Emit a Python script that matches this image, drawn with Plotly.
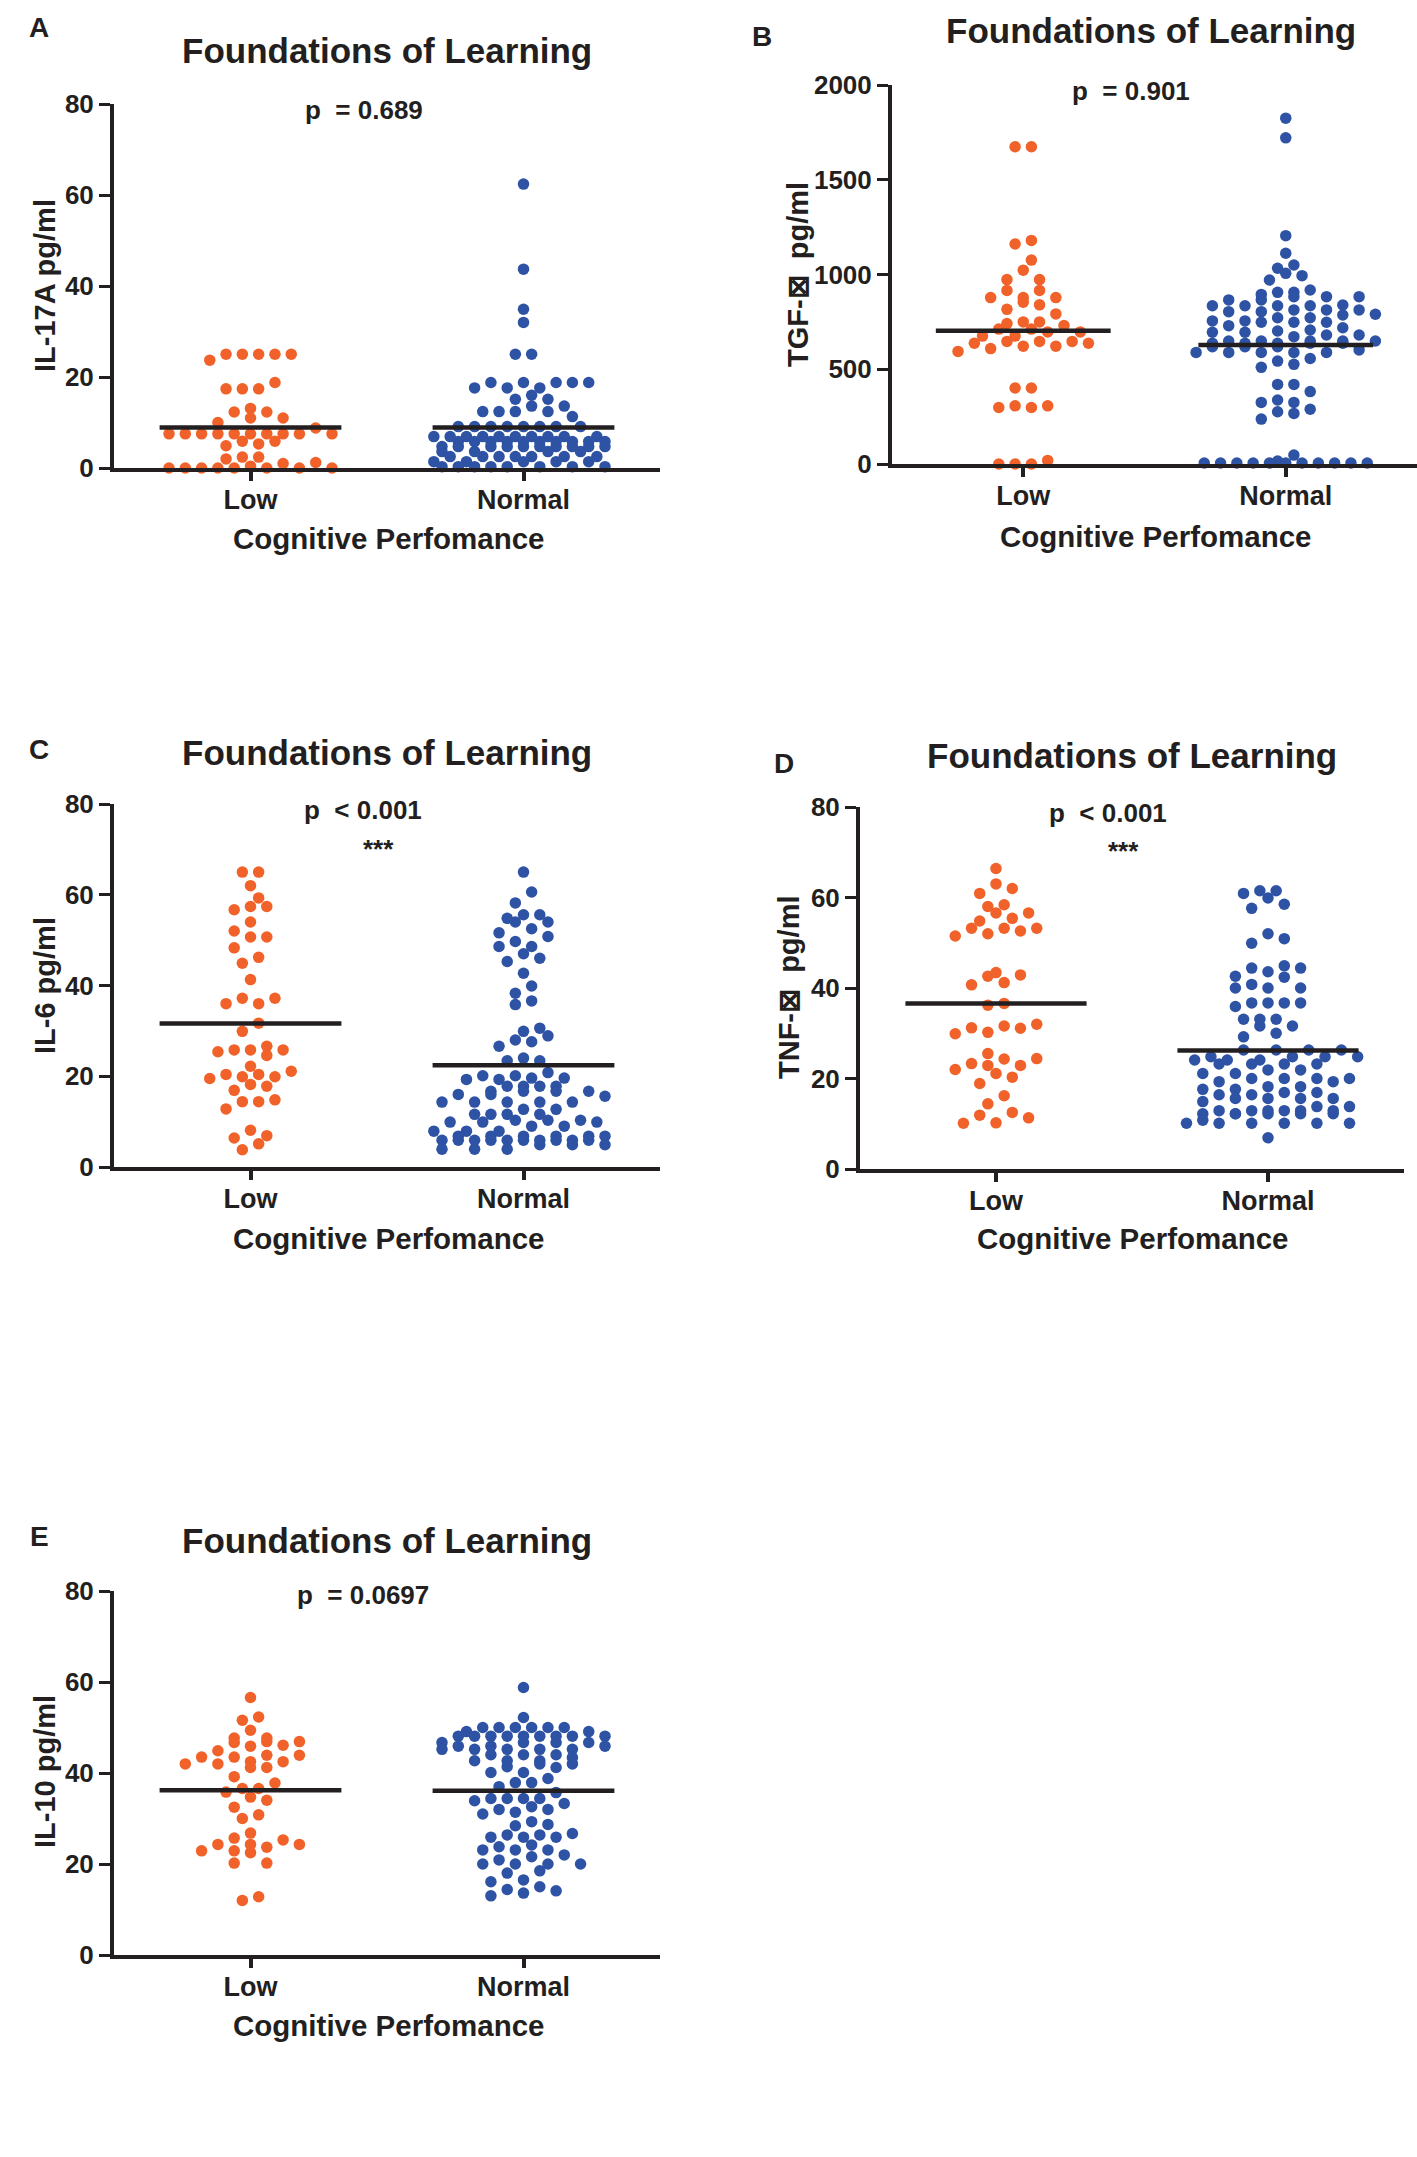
import numpy as np
import plotly.graph_objects as go

# page size of the reference figure
W, H = 1417, 2157

groups = ["Low", "Normal"]
orange = "#F0622A"
blue = "#2E53A4"
ink = "#231F20"
font_family = "Liberation Sans, Arial, Helvetica, sans-serif"

# IL-17A (panel A)
il17_low = [25.0, 25.0, 25.0, 25.0, 25.0, 23.7, 18.8, 17.4, 17.4, 17.4, 13.1, 12.3, 12.3,
            11.0, 11.0, 10.0, 8.8, 7.5, 7.5, 7.5, 7.5, 7.5, 7.5, 7.5, 7.5, 7.5, 7.5,
            5.9, 5.9, 5.3, 4.9, 2.4, 2.4, 2.0, 1.2, 1.0, 0.4, 0, 0, 0, 0, 0, 0, 0, 0]
il17_normal = [62.4, 43.7, 34.9, 32.0, 25.0, 25.0, 18.8, 18.8, 18.8, 18.8, 18.8,
               17.6, 17.6, 17.6, 16.0, 15.1, 15.1, 13.6, 13.6, 12.4, 12.4, 12.4, 12.4, 11.3,
               9.1, 9.1, 9.1, 9.1, 9.1, 9.1, 9.1, 9.1,
               6.9, 6.9, 6.9, 6.9, 6.9, 6.9, 6.9, 6.9, 6.9, 6.9,
               5.8, 5.8, 5.8, 5.8, 5.8, 5.8, 5.8, 5.8, 5.8, 5.8,
               4.7, 4.7, 4.7, 4.7, 4.7, 4.7, 4.7, 4.7, 4.7, 4.7,
               3.6, 3.6, 3.6, 3.6, 2.5, 2.5, 2.5, 2.5, 2.5, 2.5, 2.5,
               1.4, 1.4, 1.4, 1.4, 1.4, 0.3, 0.3, 0.3, 0.3, 0.3, 0.3, 0.3, 0.3]
il17_means = [8.9, 8.9]

# TGF-beta (panel B)
tgf_low = [1674, 1674, 1180, 1161, 1076, 1023, 973, 973, 916, 916, 878, 878, 878, 854, 840,
           816, 792, 750, 750, 741, 731, 712, 712, 697, 697, 675, 675, 647, 647, 647, 637,
           637, 622, 622, 609, 594, 401, 401, 307, 307, 298, 298, 19, 0, 0, 0]
tgf_normal = [1825, 1721, 1205, 1112, 1050, 1033, 1006, 994, 971, 918, 906, 906, 895,
              883, 883, 883, 866, 866, 839, 835, 835, 835, 835, 813, 813, 813, 804, 804,
              790, 786, 772, 772, 755, 755, 748, 748, 748, 730, 719, 707, 702, 695, 695,
              681, 681, 672, 649, 649, 649, 649, 649, 637, 637, 637, 637, 637, 619, 619, 619,
              602, 589, 589, 589, 589, 589, 557, 543, 526, 510, 420, 420, 382, 338, 325, 325,
              289, 276, 267, 237, 47, 16, 5, 5, 5, 5, 5, 5, 5, 5, 5, 5, 5]
tgf_means = [703, 628]

# IL-6 (panel C)
il6_low = [65.0, 65.0, 62.0, 59.3, 57.4, 57.4, 56.7, 54.0, 52.0, 50.7, 50.7, 48.3, 46.2,
           44.9, 41.3, 37.2, 37.2, 36.0, 36.0, 31.7, 29.9, 26.6, 25.8, 25.8, 25.8, 25.4,
           24.6, 22.2, 21.1, 20.4, 20.4, 19.9, 19.9, 19.5, 18.2, 17.8, 16.9, 14.8, 14.4,
           14.4, 12.8, 8.1, 6.9, 6.4, 5.1, 3.8]
il6_normal = [65.0, 60.6, 58.2, 55.6, 55.6, 54.8, 54.0, 54.0, 52.5, 51.6, 50.8, 49.7, 48.6,
              48.6, 47.0, 46.0, 45.3, 42.7, 39.9, 38.3, 36.6, 35.8, 30.6, 29.9, 28.9, 28.0,
              27.6, 26.6, 24.0, 23.4, 23.4, 20.8, 20.1, 20.1, 19.6, 19.6, 19.3, 19.3,
              17.8, 17.8, 17.8, 17.8, 16.7, 16.7, 16.7, 16.7, 16.0, 16.0, 15.6,
              14.3, 14.3, 14.3, 14.3, 14.3, 12.7, 12.7, 11.6, 11.6, 11.6, 11.6,
              10.3, 10.3, 10.3, 9.9, 9.9, 9.9, 9.0, 9.0, 7.9, 7.9, 7.9,
              6.8, 6.8, 6.8, 6.8, 6.8, 6.8, 5.9, 5.9, 5.9, 5.9, 5.9, 5.9, 5.9, 5.9, 5.9, 5.9,
              4.9, 4.9, 4.9, 3.9, 3.9, 3.9]
il6_means = [31.6, 22.4]

# TNF-alpha (panel D)
tnf_low = [66.4, 63.0, 62.0, 60.9, 58.4, 58.0, 56.6, 56.6, 55.4, 54.8, 53.2, 53.2, 53.2,
           52.6, 52.0, 51.5, 43.4, 42.9, 42.6, 41.2, 40.7, 36.6, 36.2, 32.0, 31.6, 31.2,
           31.1, 30.2, 29.9, 25.5, 24.4, 24.3, 23.3, 22.9, 22.9, 22.0, 21.1, 20.3, 18.9,
           16.2, 14.4, 12.5, 11.9, 11.3, 10.2, 10.1]
tnf_normal = [61.5, 61.5, 60.9, 59.9, 58.5, 57.6, 52.0, 50.9, 49.9, 44.9, 44.4, 44.4, 43.6,
              42.6, 42.4, 40.8, 40.0, 40.0, 40.0, 36.7, 36.7, 36.7, 36.7, 35.9,
              33.1, 33.1, 33.1, 31.6, 31.6, 30.0, 29.2, 26.3, 26.3, 26.3, 26.3,
              24.8, 24.8, 24.8, 24.8, 24.1, 24.1, 24.1, 23.2, 23.2, 23.2, 23.2,
              21.9, 21.9, 21.1, 21.1, 20.0, 20.0, 20.0, 20.0, 19.3, 19.3, 18.2, 18.2,
              17.6, 17.6, 16.9, 16.9, 16.4, 16.4, 15.6, 15.6, 15.6, 15.6, 14.9, 13.8, 13.8,
              12.9, 12.9, 12.9, 12.9, 12.9, 12.9, 12.2, 12.2, 12.2, 12.2, 12.2, 12.2, 10.8,
              10.1, 10.1, 10.1, 10.1, 10.1, 10.1, 6.9]
tnf_means = [36.6, 26.2]

# IL-10 (panel E)
il10_low = [56.6, 52.3, 51.6, 49.4, 47.7, 47.7, 46.9, 46.9, 46.7, 46.1, 45.9, 44.9, 43.9,
            43.9, 43.5, 43.5, 42.5, 42.5, 42.0, 42.0, 41.2, 41.2, 39.2, 37.8, 36.6, 36.6,
            35.8, 34.7, 34.0, 32.5, 30.8, 30.0, 26.8, 25.7, 25.3, 24.3, 24.3, 24.3, 23.7,
            22.9, 22.9, 22.5, 20.2, 20.2, 12.8, 12.0]
il10_normal = [58.8, 52.2, 50.0, 50.0, 50.0, 50.0, 50.0, 50.0, 49.1, 49.1,
               48.1, 48.1, 48.1, 48.1, 48.1, 48.1, 48.1, 48.1, 48.1, 46.7, 46.7, 46.7, 46.7,
               45.9, 45.9, 45.9, 45.2, 45.2, 45.2, 45.2, 45.2, 44.0, 44.0, 44.0, 43.4,
               42.7, 42.7, 42.7, 42.0, 42.0, 41.4, 41.2, 40.1, 40.1, 38.8, 37.9, 37.9, 37.0,
               35.7, 34.4, 34.4, 34.4, 34.4, 33.9, 33.3, 32.6, 32.0, 32.0, 31.4, 31.0, 29.3,
               28.7, 28.4, 26.7, 26.4, 26.4, 25.9, 25.9, 25.9, 24.2, 23.8, 23.1, 23.1, 23.1,
               22.0, 21.6, 20.9, 20.0, 20.0, 20.0, 20.0, 18.5, 18.0, 16.5, 16.1, 15.0, 14.4,
               14.1, 13.6, 13.0]
il10_means = [36.2, 36.1]

panels = [
    dict(letter="A", ylabel="IL-17A pg/ml", low=il17_low, normal=il17_normal,
         means=il17_means, ymax=80, dtick=20, ptext="p  = 0.689", stars=""),
    dict(letter="B", ylabel="TGF-\u22a0  pg/ml", low=tgf_low, normal=tgf_normal,
         means=tgf_means, ymax=2000, dtick=500, ptext="p  = 0.901", stars=""),
    dict(letter="C", ylabel="IL-6 pg/ml", low=il6_low, normal=il6_normal,
         means=il6_means, ymax=80, dtick=20, ptext="p  < 0.001", stars="***"),
    dict(letter="D", ylabel="TNF-\u22a0  pg/ml", low=tnf_low, normal=tnf_normal,
         means=tnf_means, ymax=80, dtick=20, ptext="p  < 0.001", stars="***"),
    dict(letter="E", ylabel="IL-10 pg/ml", low=il10_low, normal=il10_normal,
         means=il10_means, ymax=80, dtick=20, ptext="p  = 0.0697", stars=""),
]

# pixel placement of each panel: axis box (left, right, top, bottom) and text anchors
boxes = [
    dict(ax=(114, 660, 104, 468), letter=(39, 27), title=(387, 51), p=(364, 110),
         stars=None, ytitle=(45, 286), xtitle=(388, 538)),
    dict(ax=(892, 1417, 85, 464), letter=(762, 36), title=(1151, 30), p=(1131, 91),
         stars=None, ytitle=(798, 275), xtitle=(1155, 536)),
    dict(ax=(114, 660, 804, 1167), letter=(39, 749), title=(387, 753), p=(363, 810),
         stars=(378, 849), ytitle=(45, 986), xtitle=(388, 1238)),
    dict(ax=(860, 1404, 807, 1169), letter=(784, 763), title=(1132, 756), p=(1108, 813),
         stars=(1123, 851), ytitle=(789, 988), xtitle=(1132, 1238)),
    dict(ax=(114, 660, 1591, 1955), letter=(39, 1536), title=(387, 1540), p=(363, 1595),
         stars=None, ytitle=(45, 1772), xtitle=(388, 2025)),
]


def px(x):
    return x / W


def py(y):
    return 1 - y / H


def swarm(values, ppu_y, ppu_x, step=16.3, bin_px=11.0, max_row=11, dot=12.0):
    """Prism-like scatter: nearby values are gathered in rows and spread side by side."""
    vals = np.asarray(values, dtype=float)
    ypix = vals * ppu_y
    rows, cur = [], []
    for i in np.argsort(vals, kind="stable"):
        if cur and (ypix[i] - ypix[cur[0]] > bin_px or len(cur) >= max_row):
            rows.append(cur)
            cur = []
        cur.append(i)
    rows.append(cur)

    offs = np.zeros(len(vals))
    placed = []
    for idx in rows:
        n = len(idx)
        # lower values on every other slot, so a mixed row zigzags instead of slanting
        slots = list(range(0, n, 2)) + list(range(1, n, 2))
        base = (np.array(slots) - (n - 1) / 2) * step
        best = None
        for shift in (0.0, step / 2, -step / 2):
            xs = base + shift
            cost = 0
            for x, i in zip(xs, idx):
                for qx, qy in placed:
                    if (x - qx) ** 2 + (ypix[i] - qy) ** 2 < (0.9 * dot) ** 2:
                        cost += 1
            if best is None or cost < best[0]:
                best = (cost, xs)
        for x, i in zip(best[1], idx):
            offs[i] = x
            placed.append((x, ypix[i]))
    return offs / ppu_x


fig = go.Figure()
annotations = []


def note(text, x, y, size, angle=0):
    annotations.append(dict(
        text=text, x=px(x), y=py(y), xref="paper", yref="paper",
        xanchor="center", yanchor="middle", showarrow=False, textangle=angle,
        font=dict(family=font_family, size=size, color=ink, weight="bold")))


for k, (p, b) in enumerate(zip(panels, boxes)):
    n = "" if k == 0 else str(k + 1)
    left, right, top, bottom = b["ax"]
    ppu_x = (right - left) / 2.0
    ppu_y = (bottom - top) / p["ymax"]

    for g, (vals, col) in enumerate(zip([p["low"], p["normal"]], [orange, blue])):
        offs = swarm(vals, ppu_y, ppu_x)
        fig.add_trace(go.Scatter(
            x=g + offs, y=vals, mode="markers", xaxis="x" + n, yaxis="y" + n,
            marker=dict(size=11.5, color=col, line=dict(width=0)),
            cliponaxis=False, showlegend=False, hoverinfo="y"))
    for g, m in enumerate(p["means"]):
        fig.add_trace(go.Scatter(
            x=[g - 0.333, g + 0.333], y=[m, m], mode="lines",
            xaxis="x" + n, yaxis="y" + n, line=dict(color=ink, width=4.5),
            cliponaxis=False, showlegend=False, hoverinfo="skip"))

    fig.update_layout({
        "xaxis" + n: dict(
            domain=[px(left), px(right)], range=[-0.5, 1.5], anchor="y" + n,
            tickvals=[0, 1], ticktext=groups, showline=True, linewidth=4,
            linecolor=ink, ticks="outside", ticklen=9, tickwidth=4, tickcolor=ink,
            showgrid=False, zeroline=False, fixedrange=True, automargin=False,
            tickfont=dict(family=font_family, size=27, color=ink, weight="bold")),
        "yaxis" + n: dict(
            domain=[py(bottom), py(top)], range=[0, p["ymax"]], anchor="x" + n,
            tickvals=list(range(0, p["ymax"] + 1, p["dtick"])), showline=True,
            linewidth=4, linecolor=ink, ticks="outside", ticklen=11, tickwidth=3,
            tickcolor=ink, showgrid=False, zeroline=False, fixedrange=True,
            automargin=False,
            tickfont=dict(family=font_family, size=26, color=ink, weight="bold")),
    })

    note(p["letter"], *b["letter"], 28)
    note("Foundations of Learning", *b["title"], 35)
    note(p["ptext"], *b["p"], 26)
    if p["stars"]:
        note(p["stars"], *b["stars"], 26)
    note(p["ylabel"], *b["ytitle"], 29, angle=-90)
    note("Cognitive Perfomance", *b["xtitle"], 29.5)

fig.update_layout(
    template="none",
    width=W, height=H, margin=dict(l=0, r=0, t=0, b=0, pad=0, autoexpand=False),
    paper_bgcolor="white", plot_bgcolor="white",
    annotations=annotations, showlegend=False,
)

# pull the group labels a little closer to the axis, where the plotly version allows it
try:
    fig.update_xaxes(ticklabelstandoff=-4)
except ValueError:
    pass

# the page body keeps no default margin so the figure sits exactly in the window
fig.write_html("out.html", config={"displayModeBar": False},
               post_script="document.body.style.margin = '0px';")
